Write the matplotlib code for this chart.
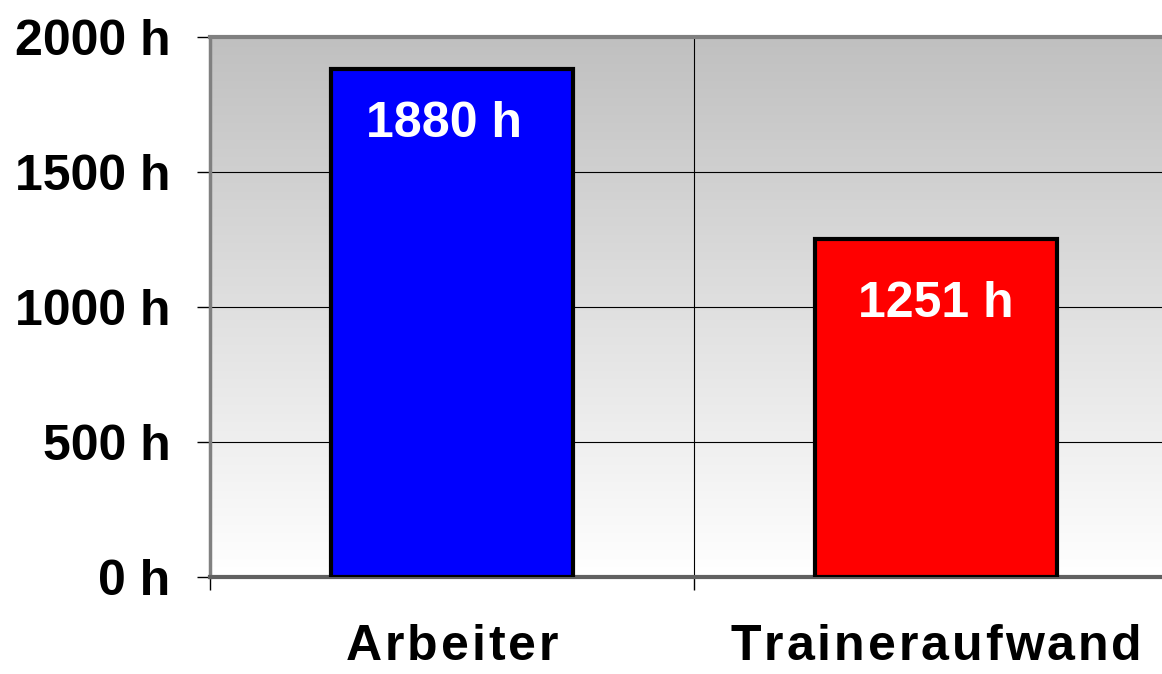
import matplotlib
matplotlib.use("Agg")
import matplotlib.pyplot as plt
import numpy as np

categories = ["Arbeiter", "Traineraufwand"]
hours = [1880, 1251]
bar_colors = ["#0000ff", "#ff0000"]
y_ticks = [0, 500, 1000, 1500, 2000]

plt.rcParams['font.family'] = ['Liberation Sans', 'DejaVu Sans']
plt.rcParams['font.weight'] = 'bold'

fig = plt.figure(figsize=(11.62, 6.74), dpi=100)
W, H = 1162, 674
ax = fig.add_axes([210 / W, (H - 577) / H, 968 / W, 540 / H])

# grauer Verlauf im Hintergrund (oben dunkel, unten weiss)
grad = np.linspace(0, 1, 256).reshape(-1, 1)
ax.imshow(grad, cmap=matplotlib.colors.LinearSegmentedColormap.from_list(
    "g", ["#ffffff", "#c0c0c0"]), origin="lower", aspect="auto",
    extent=[-0.5, 1.5, 0, 2000], zorder=0)

x = np.arange(len(categories))
bars = ax.bar(x, hours, width=0.5, color=bar_colors, edgecolor="black",
              linewidth=3, zorder=3)

offs = [-55, -65]  # Abstand Beschriftung unter Balkenoberkante (px)
for i, (xi, v) in enumerate(zip(x, hours)):
    ax.annotate(f"{v} h", (xi, v), xytext=(-6 if i == 0 else 0, offs[i] * 0.72),
                textcoords="offset points", ha="center", va="center",
                color="white", fontsize=36, fontweight="bold", zorder=4)

ax.set_xlim(-0.5, 1.5)
ax.set_ylim(0, 2000)

ax.set_yticks(y_ticks)
ax.set_yticklabels([f"{t} h" for t in y_ticks], fontsize=36, fontweight="bold")
ax.tick_params(axis="y", length=9.5, width=1, color="black", pad=19)
ax.grid(axis="y", color="black", linewidth=0.8, zorder=1)

ax.set_xticks(x)
ax.set_xticklabels([])
ax.tick_params(axis="x", which="major", length=0)
ax.set_xticks([-0.5, 0.5, 1.5], minor=True)
ax.tick_params(axis="x", which="minor", length=9.5, width=1, color="black")
ax.grid(axis="x", which="minor", color="black", linewidth=0.8, zorder=1)
ax.set_axisbelow(True)

ax.spines["top"].set_color("#808080")
ax.spines["top"].set_linewidth(3)
ax.spines["left"].set_color("#808080")
ax.spines["left"].set_linewidth(2.5)
ax.spines["bottom"].set_color("#606060")
ax.spines["bottom"].set_linewidth(3)
ax.spines["right"].set_visible(False)

# Kategorienamen mit etwas Zeichenabstand (gesperrt) zeichnen
renderer = fig.canvas.get_renderer()
spacing = 3  # px zwischen den Zeichen
for xi, name in zip(x, categories):
    widths = []
    for ch in name:
        t = fig.text(0, 0, ch, fontsize=36, fontweight="bold")
        widths.append(t.get_window_extent(renderer).width)
        t.remove()
    total = sum(widths) + spacing * (len(name) - 1)
    cx = ax.transData.transform((xi, 0))[0]
    pos = cx - total / 2
    for ch, w in zip(name, widths):
        fig.text(pos / W, (H - 660) / H, ch, fontsize=36, fontweight="bold",
                 ha="left", va="baseline")
        pos += w + spacing

fig.savefig("out.png", dpi=100)
